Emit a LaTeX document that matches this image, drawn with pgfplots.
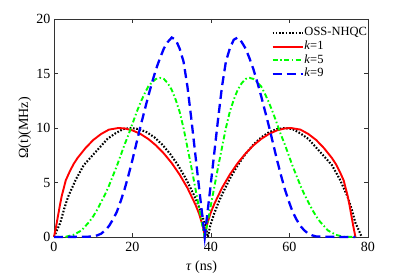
\documentclass[border=0pt]{standalone}
\usepackage{fontspec}
\setmainfont{Liberation Serif}
\usepackage{pgfplots}
\pgfplotsset{compat=1.18}
\begin{document}
\begin{tikzpicture}
\path[use as bounding box] (-54pt,-36pt) rectangle (355pt,237pt);
\begin{axis}[
  at={(0,0)}, anchor=south west,
  scale only axis, width=314pt, height=218pt,
  xmin=0, xmax=80, ymin=0, ymax=20,
  xtick={0,20,40,60,80}, ytick={0,5,10,15,20},
  xtick pos=both, ytick pos=both,
  tick align=inside, major tick length=4pt,
  axis line style={black!80, line width=0.8pt},
  every tick/.style={black!80, line width=0.8pt},
  /pgf/number format/assume math mode=true,
  ticklabel style={font=\fontsize{14}{16}\selectfont},
  xticklabel style={yshift=-1.5pt},
  xlabel={\textit{τ} (ns)}, ylabel={Ω(t)(MHz)},
  label style={font=\fontsize{14}{16}\selectfont},
  xlabel style={at={(axis description cs:0.47,-0.138)}, anchor=center},
  ylabel style={at={(axis description cs:-0.093,0.5)}, anchor=center},
  clip=false,
  legend cell align=left,
  legend image code/.code={\draw[#1] (0pt,0pt) -- (30pt,0pt);},
  legend style={at={(rel axis cs:1,0.968)}, anchor=north east, draw=none, fill=none,
    font=\fontsize{12.5}{14}\selectfont, inner sep=0pt, row sep=0pt,
    nodes={inner sep=0.8pt, text height=9pt, text depth=3pt}},
]
% OSS-NHQC
\addplot[black, line width=2.1pt, dash pattern=on 1.6pt off 1.7pt] coordinates {
(0,0) (0.6,0.5) (1.6,1.3) (2.6,2.6) (3.6,3.7) (4.6,4.5) (5.6,5.3) (7.6,6.6) (9.6,7.4) (11.6,8.2) (13.6,9.0) (15.6,9.5) (17.6,9.9) (19.6,10) (21.6,9.90) (23.6,9.62) (25.6,9.14) (27.6,8.47) (29.6,7.62) (31.6,6.58) (33.6,5.35) (35.6,3.89) (36.6,3.07) (37.6,2.14) (38.6,1.03) (39.2,0)
(39.8,1.03) (40.8,2.14) (41.8,3.07) (42.8,3.89) (44.8,5.35) (46.8,6.58) (48.8,7.62) (50.8,8.47) (52.8,9.14) (54.8,9.62) (56.8,9.90) (58.8,10) (60.8,9.9) (62.8,9.5) (64.8,9.0) (66.8,8.2) (68.8,7.4) (70.8,6.6) (72.8,5.3) (73.8,4.5) (74.8,3.7) (75.8,2.6) (76.8,1.3) (77.8,0.5) (78.4,0)
};
\addlegendentry{OSS-NHQC}
% k=1
\addplot[red, line width=1.9pt] coordinates {
(0,0) (0.5,0.9) (1,1.9) (1.5,2.9) (2,3.8) (3,5.2) (4,6.0) (5,6.7) (6,7.25) (7,7.7) (8,8.15) (10,8.9) (12,9.45) (14,9.85) (16.4,10) (18,9.96) (20,9.78) (22,9.46) (24,9.0) (26,8.4) (28,7.66) (30,6.78) (32,5.73) (34,4.5) (36,3.0) (37,2.1) (38,0.9) (38.4,0)
(38.8,0.9) (39.8,2.1) (40.8,3.0) (42.8,4.5) (44.8,5.73) (46.8,6.78) (48.8,7.66) (50.8,8.4) (52.8,9.0) (54.8,9.46) (56.8,9.78) (58.8,9.96) (60.4,10) (62.8,9.85) (64.8,9.45) (66.8,8.9) (68.8,8.15) (69.8,7.7) (70.8,7.25) (71.8,6.7) (72.8,6.0) (73.8,5.2) (74.8,3.8) (75.3,2.9) (75.8,1.9) (76.3,0.9) (76.8,0)
};
\addlegendentry{\textit{k}=1}
% k=5
\addplot[green, line width=1.9pt, dash pattern=on 5pt off 2.5pt on 1.5pt off 2.5pt] coordinates {
(0,0) (3,0.02) (5,0.2) (6,0.4) (7,0.6) (8,1.0) (9,1.4) (10,1.9) (11,2.5) (12,3.2) (13,3.9) (14,4.7) (15,5.6) (16,6.5) (17,7.5) (18,8.5) (19,9.4) (20,10.4) (21,11.4) (22,12.3) (23,13.1) (24,13.8) (25,14.2) (26,14.5) (27,14.6) (28,14.5) (29,14.1) (30,13.5) (31,12.6) (32,11.5) (33,10.0) (34,8.2) (35,6.4) (36,4.5) (37,2.6) (38,0.7) (38.4,0)
(38.8,0.7) (39.8,2.6) (40.8,4.5) (41.8,6.4) (42.8,8.2) (43.8,10.0) (44.8,11.5) (45.8,12.6) (46.8,13.5) (47.8,14.1) (48.8,14.5) (49.8,14.6) (50.8,14.5) (51.8,14.2) (52.8,13.8) (53.8,13.1) (54.8,12.3) (55.8,11.4) (56.8,10.4) (57.8,9.4) (58.8,8.5) (59.8,7.5) (60.8,6.5) (61.8,5.6) (62.8,4.7) (63.8,3.9) (64.8,3.2) (65.8,2.5) (66.8,1.9) (67.8,1.4) (68.8,1.0) (69.8,0.6) (70.8,0.4) (71.8,0.2) (73.8,0.02) (76.8,0)
};
\addlegendentry{\textit{k}=5}
% k=9
\addplot[blue, line width=2.3pt, dash pattern=on 9pt off 5pt] coordinates {
(0,0) (8,0.02) (10,0.05) (11,0.15) (12,0.3) (13,0.6) (14,1.0) (15,1.6) (16,2.3) (17,3.3) (18,4.4) (19,5.7) (20,7.1) (21,8.6) (22,10.1) (23,11.5) (24,12.9) (25,14.2) (26,15.4) (27,16.4) (28,17.3) (29,17.9) (30,18.3) (31,18.1) (32,17.3) (33,16.1) (34,13.8) (35,10.8) (36,7.6) (37,4.4) (38,1.3) (38.4,0)
(38.8,1.3) (39.8,4.4) (40.8,7.6) (41.8,10.8) (42.8,13.8) (43.8,16.1) (44.8,17.3) (45.8,18.1) (46.8,18.3) (47.8,17.9) (48.8,17.3) (49.8,16.4) (50.8,15.4) (51.8,14.2) (52.8,12.9) (53.8,11.5) (54.8,10.1) (55.8,8.6) (56.8,7.1) (57.8,5.7) (58.8,4.4) (59.8,3.3) (60.8,2.3) (61.8,1.6) (62.8,1.0) (63.8,0.6) (64.8,0.3) (65.8,0.15) (66.8,0.05) (68.8,0.02) (76.8,0)
};
\addlegendentry{\textit{k}=9}
\end{axis}
\end{tikzpicture}
\end{document}
